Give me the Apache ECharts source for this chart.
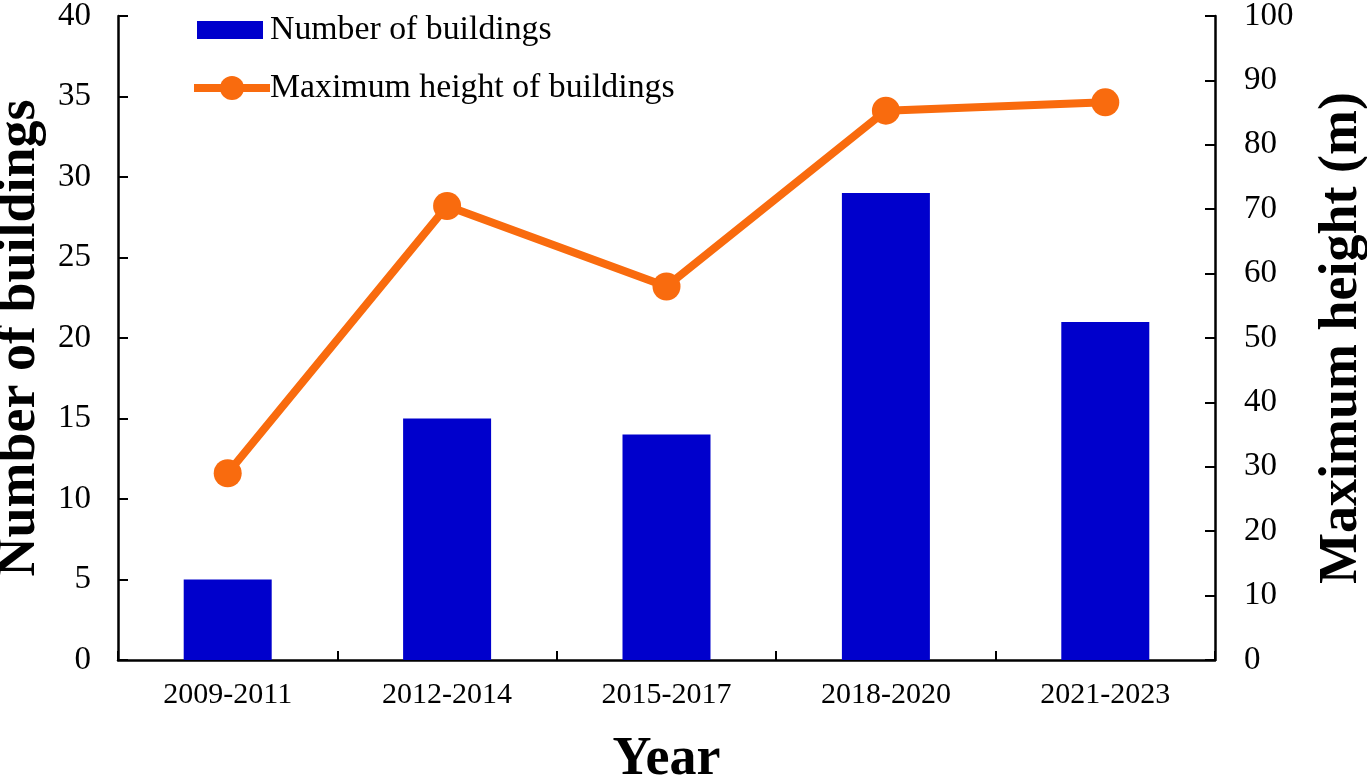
<!DOCTYPE html>
<html><head><meta charset="utf-8">
<style>html,body{margin:0;padding:0;background:#fff}#c{width:1367px;height:776px}</style>
<script src="https://cdn.jsdelivr.net/npm/echarts@6/dist/echarts.min.js"></script></head>
<body><div id="c"></div>
<script>
const categories=['2009-2011','2012-2014','2015-2017','2018-2020','2021-2023'];
const buildings=[5,15,14,29,21];
const heights=[29,70.5,58,85.3,86.6];
const barName='Number of buildings', lineName='Maximum height of buildings';
const font='"Liberation Serif"';
const orange='#F96B0E';
const chart=echarts.init(document.getElementById('c'));
const axisLine={show:true,lineStyle:{color:'#000',width:2.5}};
const nameStyle={fontFamily:font,fontSize:54,fontWeight:'bold',color:'#000'};
chart.setOption({
 animation:false,
 grid:{left:118,right:152,top:16,bottom:116,outerBoundsMode:'none'},
 legend:[
  {left:192,top:8,itemWidth:66,itemHeight:18,textStyle:{fontFamily:font,fontSize:33.8,color:'#000',padding:[6,0,0,2]},data:[{name:barName,icon:'rect'}]},
  {left:185,top:66,itemWidth:76,itemHeight:30,textStyle:{fontFamily:font,fontSize:33.8,color:'#000',padding:[0,0,0,-5]},lineStyle:{width:'inherit'},data:[lineName]}
 ],
 xAxis:{type:'category',data:categories,name:'Year',nameLocation:'middle',nameGap:73,nameTextStyle:nameStyle,
  axisLine,axisTick:{show:true,length:9,inside:true,lineStyle:{color:'#000',width:2}},
  axisLabel:{fontFamily:font,fontSize:30,color:'#000',margin:20}},
 yAxis:[
  {type:'value',min:0,max:40,interval:5,name:barName,nameLocation:'middle',nameGap:71,nameTextStyle:nameStyle,
   axisLine,axisTick:{show:true,length:10,inside:true,lineStyle:{color:'#000',width:2}},splitLine:{show:false},
   axisLabel:{fontFamily:font,fontSize:33,color:'#000',margin:27,lineHeight:37,verticalAlign:'middle',padding:[5,0,0,0]}},
  {type:'value',min:0,max:100,interval:10,name:'Maximum height (m)',nameLocation:'middle',nameGap:100,nameRotate:90,nameTextStyle:nameStyle,
   axisLine,axisTick:{show:true,length:10,inside:true,lineStyle:{color:'#000',width:2}},splitLine:{show:false},
   axisLabel:{fontFamily:font,fontSize:33,color:'#000',margin:29,lineHeight:37,verticalAlign:'middle',padding:[5,0,0,0]}}
 ],
 series:[
  {name:barName,type:'bar',data:buildings,barWidth:88,itemStyle:{color:'#0000CC'}},
  {name:lineName,type:'line',yAxisIndex:1,data:heights,symbol:'circle',symbolSize:28,
   lineStyle:{color:orange,width:8},itemStyle:{color:orange}}
 ]
});
</script></body></html>
